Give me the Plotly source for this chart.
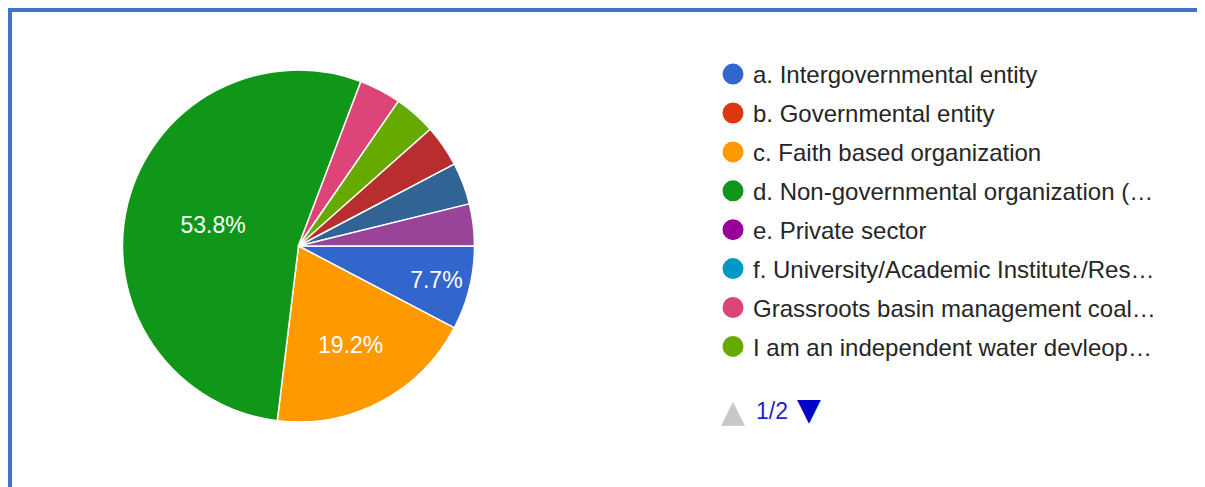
import plotly.graph_objects as go

# ---- data ----
categories = [
    "a. Intergovernmental entity",
    "b. Governmental entity",
    "c. Faith based organization",
    "d. Non-governmental organization (…",
    "e. Private sector",
    "f. University/Academic Institute/Res…",
    "Grassroots basin management coal…",
    "I am an independent water devleop…",
    "i. (page 2 item)",
    "j. (page 2 item)",
    "k. (page 2 item)",
]
counts = [2, 0, 5, 14, 0, 0, 1, 1, 1, 1, 1]
colors = ["#3366cc", "#dc3912", "#ff9900", "#109618", "#990099", "#0099c6",
          "#dd4477", "#66aa00", "#b82e2e", "#316395", "#994499"]
legend_page1 = 8  # legend shows first 8 entries, page 1/2
page_text = "1/2"

total = sum(counts)
pie_labels = [c for c, v in zip(categories, counts) if v > 0]
pie_values = [v for v in counts if v > 0]
pie_colors = [col for col, v in zip(colors, counts) if v > 0]
pie_text = [f"{100 * v / total:.1f}%" if v / total >= 0.05 else "" for v in pie_values]

W, H = 1205, 487
FONT = "Liberation Sans, Arial, sans-serif"


def px(xp):
    return xp / W


def py(yp):
    return 1 - yp / H


fig = go.Figure()
fig.add_trace(go.Pie(
    labels=pie_labels,
    values=pie_values,
    text=pie_text,
    textinfo="text",
    textposition="inside",
    insidetextorientation="horizontal",
    insidetextfont=dict(color="white", size=23, family=FONT),
    marker=dict(colors=pie_colors, line=dict(color="white", width=1.5)),
    sort=False,
    direction="clockwise",
    rotation=90,
    showlegend=False,
    domain=dict(x=[px(113), px(468)], y=[py(414), py(62)]),
))

for i in range(legend_page1):
    fig.add_trace(go.Scatter(
        x=[None], y=[None], mode="markers", name=categories[i],
        legendgroup=f"g{i}",
        marker=dict(symbol="circle", size=16, color=colors[i],
                    line=dict(color=colors[i], width=8)),
    ))

fig.add_annotation(xref="paper", yref="paper", x=px(725), y=py(403),
                   xanchor="center", yanchor="middle", showarrow=False,
                   text="▲", font=dict(size=31, family="DejaVu Sans", color="#c8c8c8"))
fig.add_annotation(xref="paper", yref="paper", x=px(746), y=py(403),
                   xanchor="left", yanchor="middle", showarrow=False,
                   text=page_text, font=dict(size=23, family=FONT, color="#1f1fcc"))
fig.add_annotation(xref="paper", yref="paper", x=px(801), y=py(401),
                   xanchor="center", yanchor="middle", showarrow=False,
                   text="▼", font=dict(size=31, family="DejaVu Sans", color="#0000c8"))

fig.update_layout(
    width=W, height=H,
    margin=dict(l=0, r=0, t=0, b=0),
    paper_bgcolor="white", plot_bgcolor="white",
    xaxis=dict(visible=False), yaxis=dict(visible=False),
    legend=dict(
        x=px(705), y=py(44), xanchor="left", yanchor="top",
        font=dict(size=24, family=FONT, color="#262626"),
        tracegroupgap=4.7, bgcolor="rgba(0,0,0,0)",
    ),
    shapes=[
        dict(type="line", xref="paper", yref="paper", x0=0, x1=1, y0=py(2), y1=py(2),
             line=dict(color="#4472c4", width=4)),
        dict(type="line", xref="paper", yref="paper", x0=px(2), x1=px(2), y0=0, y1=py(0),
             line=dict(color="#4472c4", width=4)),
    ],
)

fig.write_html("out.html")
